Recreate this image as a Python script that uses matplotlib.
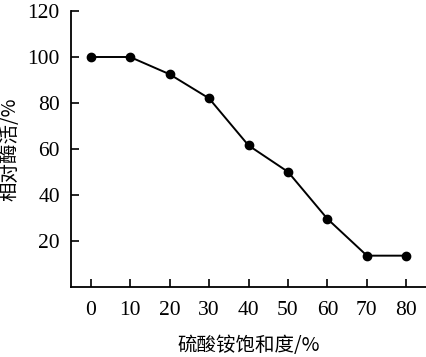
import matplotlib
matplotlib.use('Agg')
import matplotlib.pyplot as plt

# data
saturation = [0, 10, 20, 30, 40, 50, 60, 70, 80]
activity = [100, 100, 92.5, 82, 61.5, 50, 29.5, 13.5, 13.5]
x_ticks = [0, 10, 20, 30, 40, 50, 60, 70, 80]
y_ticks = [20, 40, 60, 80, 100, 120]

plt.rcParams['font.family'] = ['Liberation Serif', 'Noto Sans CJK SC']

fig = plt.figure(figsize=(4.27, 3.57), dpi=100)
ax = fig.add_axes([0.166, 0.197, 0.832, 0.772])

ax.plot(saturation, activity, color='black', linewidth=1.4,
        marker='o', markersize=6, markerfacecolor='black', markeredgecolor='black')

ax.set_xlim(-5, 85)
ax.set_ylim(0, 120)
ax.set_xticks(x_ticks)
ax.set_yticks(y_ticks)
ax.tick_params(direction='in', length=6, width=1.2, labelsize=15.5, pad=8)
ax.tick_params(axis='x', pad=10)

for side in ['top', 'right']:
    ax.spines[side].set_visible(False)
for side in ['left', 'bottom']:
    ax.spines[side].set_linewidth(1.3)

ax.set_xlabel('硫酸铵饱和度/%', family=['Noto Sans CJK SC', 'DejaVu Sans'], fontsize=14, labelpad=11)
ax.set_ylabel('相对酶活/%', family=['Noto Sans CJK SC', 'DejaVu Sans'], fontsize=14, labelpad=5)

plt.savefig('out.png', dpi=100)
